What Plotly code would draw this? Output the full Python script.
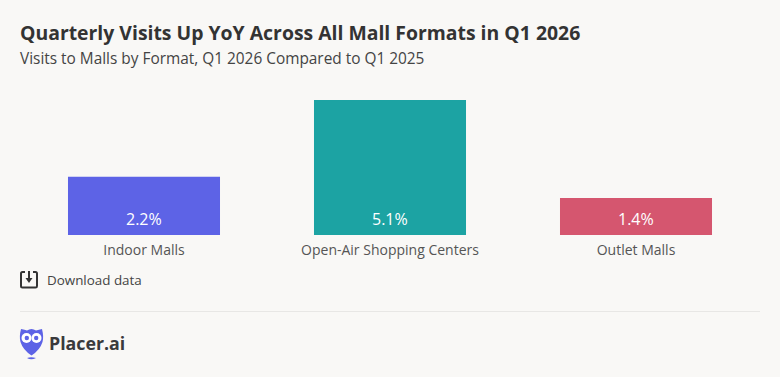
import plotly.graph_objects as go

categories = ["Indoor Malls", "Open-Air Shopping Centers", "Outlet Malls"]
values = [2.2, 5.1, 1.4]
labels = ["2.2%", "5.1%", "1.4%"]
colors = ["#5d63e6", "#1ca3a3", "#d5566f"]

W, H = 780, 377
L, R, T, B = 21, 759, 100, 235
BG = "#f9f8f6"
FONT = "Open Sans"


def px(x):
    return (x - L) / (R - L)


def py(y):
    return (B - y) / (B - T)


def path(cmds):
    out = []
    for c in cmds:
        if len(c) == 1:
            out.append(c[0])
        else:
            vals = c[1:]
            pts = []
            for i in range(0, len(vals), 2):
                pts.append(f"{px(vals[i]):.5f},{py(vals[i + 1]):.5f}")
            out.append(c[0] + " ".join(pts))
    return " ".join(out)


def pshape(cmds, fill=None, line=None, width=0):
    d = dict(type="path", xref="paper", yref="paper", path=path(cmds), layer="above")
    d["fillcolor"] = fill if fill else "rgba(0,0,0,0)"
    d["line"] = dict(color=line if line else "rgba(0,0,0,0)", width=width)
    return d


def circle(cx, cy, r, fill):
    return dict(type="circle", xref="paper", yref="paper", x0=px(cx - r), x1=px(cx + r),
                y0=py(cy + r), y1=py(cy - r), fillcolor=fill, line=dict(width=0), layer="above")


def text(x, y, s, size, color, weight=400, family=FONT):
    return dict(xref="paper", yref="paper", x=px(x), y=py(y), text=s, showarrow=False,
                xanchor="left", yanchor="middle", align="left", borderpad=0,
                font=dict(family=family, size=size, color=color, weight=weight))


fig = go.Figure(go.Bar(
    x=categories, y=values, width=0.618, marker=dict(color=colors, line=dict(width=0)),
    cliponaxis=False, hoverinfo="skip",
))

ICON = "#333333"
shapes = [
    dict(type="line", xref="paper", yref="paper", x0=px(20), x1=px(760), y0=py(311.5), y1=py(311.5),
         line=dict(color="#e8e7e5", width=1)),
    # download icon
    pshape([("M", 25, 272), ("L", 22.5, 272), ("Q", 21, 272, 21, 273.5), ("L", 21, 286),
            ("Q", 21, 287.5, 22.5, 287.5), ("L", 35.5, 287.5), ("Q", 37, 287.5, 37, 286),
            ("L", 37, 273.5), ("Q", 37, 272, 35.5, 272), ("L", 33, 272)], line=ICON, width=2),
    pshape([("M", 29, 271), ("L", 29, 280)], line=ICON, width=2),
    pshape([("M", 25.5, 278), ("L", 32.5, 278), ("L", 29, 283), ("Z",)], fill=ICON),
    # owl logo
    pshape([("M", 21, 329), ("Q", 25, 329.5, 27, 330.5), ("Q", 31.5, 327.5, 36, 330.5), ("Q", 39, 329.5, 42, 329),
            ("Q", 44, 337, 42.5, 342), ("Q", 40, 350, 31.5, 355.5), ("Q", 23, 350, 20.5, 342),
            ("Q", 19, 337, 21, 329), ("Z",)], fill="#5d63e6"),
    circle(26.5, 338, 5, "#ffffff"),
    circle(36.5, 338, 5, "#ffffff"),
    circle(26.8, 338, 2.2, "#5d63e6"),
    circle(36.2, 338, 2.2, "#5d63e6"),
    pshape([("M", 27, 358), ("Q", 31, 356.5, 36, 358), ("Q", 31, 360.5, 27, 358), ("Z",)], fill="#5d63e6"),
]

annotations = [
    text(19, 32.5, "Quarterly Visits Up YoY Across All Mall Formats in Q1 2026", 19.4, "#333333", 700),
    text(19, 58, "Visits to Malls by Format, Q1 2026 Compared to Q1 2025", 15.4, "#444444"),
    text(46, 280, "Download data", 13.4, "#444444"),
    text(48, 343, "Placer.ai", 17.8, "#3a3a3c", 700),
]
for c, lab in zip(categories, labels):
    annotations.append(dict(xref="x", yref="y", x=c, y=0, text=lab, showarrow=False, yanchor="middle",
                            yshift=16, font=dict(family=FONT, size=16, color="#ffffff")))

fig.update_layout(
    width=W, height=H, autosize=False, showlegend=False,
    paper_bgcolor=BG, plot_bgcolor=BG, font=dict(family=FONT),
    margin=dict(l=L, r=W - R, t=T, b=H - B, pad=0),
    shapes=shapes, annotations=annotations, bargap=0.382,
    xaxis=dict(showgrid=False, zeroline=False, showline=False, ticks="", fixedrange=True, ticklabelstandoff=5,
               tickfont=dict(family=FONT, size=14, color="#555555")),
    yaxis=dict(visible=False, range=[0, 5.1], fixedrange=True),
)

fig.write_html("out.html", config=dict(displayModeBar=False),
               post_script="document.body.style.margin='0';document.documentElement.style.background='%s';" % BG)
